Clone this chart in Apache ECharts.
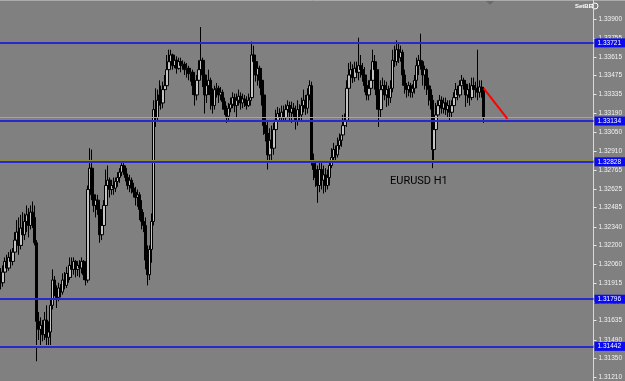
<!DOCTYPE html>
<html><head><meta charset="utf-8">
<script src="https://cdn.jsdelivr.net/npm/echarts@6/dist/echarts.min.js"></script>
<style>html,body{margin:0;padding:0;background:#808080;}#c{width:625px;height:381px;}</style>
</head><body><div id="c"></div>
<script>
const opens = [
1.3198,1.3192,1.3200,1.3208,1.3203,1.3211,1.3208,1.3215,1.3224,1.3230,
1.3220,1.3233,1.3228,1.3238,1.3243,1.3235,1.3245,1.3241,1.3222,1.3163,
1.3157,1.3160,1.3153,1.3164,1.3151,1.3155,1.3175,1.3194,1.3187,1.3181,
1.3188,1.3185,1.3194,1.3190,1.3199,1.3196,1.3205,1.3202,1.3208,1.3202,
1.3205,1.3203,1.3208,1.3198,1.3194,1.3262,1.3278,1.3258,1.3250,1.3254,
1.3247,1.3228,1.3235,1.3250,1.3265,1.3269,1.3262,1.3265,1.3263,1.3268,
1.3271,1.3275,1.3280,1.3278,1.3271,1.3265,1.3269,1.3263,1.3260,1.3256,
1.3258,1.3247,1.3238,1.3235,1.3209,1.3198,1.3217,1.3238,1.3322,1.3316,
1.3329,1.3333,1.3327,1.3337,1.3340,1.3352,1.3358,1.3363,1.3355,1.3359,
1.3353,1.3358,1.3355,1.3356,1.3352,1.3353,1.3349,1.3350,1.3340,1.3333,
1.3344,1.3352,1.3359,1.3348,1.3333,1.3340,1.3344,1.3333,1.3325,1.3337,
1.3338,1.3333,1.3335,1.3328,1.3322,1.3317,1.3323,1.3326,1.3331,1.3325,
1.3329,1.3332,1.3327,1.3330,1.3328,1.3325,1.3329,1.3331,1.3363,1.3358,
1.3348,1.3353,1.3344,1.3333,1.3310,1.3304,1.3288,1.3299,1.3293,1.3307,
1.3314,1.3319,1.3316,1.3320,1.3316,1.3322,1.3325,1.3320,1.3323,1.3319,
1.3314,1.3322,1.3318,1.3325,1.3329,1.3323,1.3333,1.3340,1.3284,1.3277,
1.3271,1.3265,1.3277,1.3269,1.3273,1.3265,1.3271,1.3280,1.3286,1.3292,
1.3288,1.3295,1.3299,1.3303,1.3310,1.3314,1.3338,1.3348,1.3352,1.3346,
1.3353,1.3350,1.3355,1.3352,1.3348,1.3340,1.3333,1.3338,1.3344,1.3358,
1.3352,1.3333,1.3322,1.3337,1.3340,1.3333,1.3337,1.3331,1.3338,1.3359,
1.3358,1.3367,1.3361,1.3365,1.3348,1.3340,1.3337,1.3340,1.3335,1.3338,
1.3344,1.3355,1.3359,1.3358,1.3348,1.3352,1.3340,1.3337,1.3329,1.3292,
1.3307,1.3318,1.3325,1.3329,1.3323,1.3327,1.3322,1.3325,1.3320,1.3325,
1.3331,1.3337,1.3333,1.3340,1.3344,1.3341,1.3333,1.3337,1.3331,1.3340,
1.3337,1.3338,1.3335,1.3339,1.3337
];
const highs = [
1.3203,1.3205,1.3211,1.3213,1.3215,1.3217,1.3218,1.3230,1.3239,1.3241,
1.3243,1.3245,1.3244,1.3250,1.3248,1.3250,1.3253,1.3250,1.3224,1.3170,
1.3166,1.3164,1.3170,1.3175,1.3163,1.3179,1.3202,1.3197,1.3190,1.3192,
1.3191,1.3199,1.3200,1.3204,1.3203,1.3211,1.3211,1.3211,1.3209,1.3207,
1.3209,1.3211,1.3209,1.3200,1.3265,1.3293,1.3292,1.3263,1.3258,1.3258,
1.3250,1.3243,1.3254,1.3277,1.3280,1.3271,1.3269,1.3271,1.3271,1.3275,
1.3278,1.3283,1.3283,1.3280,1.3274,1.3273,1.3271,1.3267,1.3264,1.3262,
1.3260,1.3254,1.3245,1.3241,1.3220,1.3220,1.3244,1.3329,1.3338,1.3337,
1.3344,1.3340,1.3343,1.3348,1.3363,1.3367,1.3367,1.3364,1.3363,1.3362,
1.3361,1.3361,1.3359,1.3358,1.3357,1.3355,1.3353,1.3352,1.3344,1.3348,
1.3359,1.3384,1.3361,1.3352,1.3344,1.3352,1.3346,1.3338,1.3340,1.3342,
1.3340,1.3339,1.3337,1.3331,1.3325,1.3327,1.3331,1.3335,1.3334,1.3334,
1.3337,1.3335,1.3334,1.3333,1.3332,1.3334,1.3335,1.3373,1.3370,1.3361,
1.3358,1.3355,1.3346,1.3337,1.3318,1.3314,1.3308,1.3310,1.3312,1.3322,
1.3324,1.3323,1.3325,1.3325,1.3326,1.3329,1.3328,1.3328,1.3327,1.3325,
1.3329,1.3326,1.3331,1.3337,1.3333,1.3338,1.3344,1.3343,1.3289,1.3284,
1.3280,1.3284,1.3283,1.3280,1.3278,1.3277,1.3284,1.3293,1.3297,1.3295,
1.3301,1.3304,1.3307,1.3318,1.3319,1.3344,1.3357,1.3358,1.3356,1.3358,
1.3358,1.3376,1.3363,1.3357,1.3354,1.3346,1.3344,1.3352,1.3367,1.3363,
1.3354,1.3340,1.3344,1.3346,1.3344,1.3343,1.3340,1.3344,1.3367,1.3370,
1.3374,1.3372,1.3370,1.3367,1.3352,1.3342,1.3343,1.3342,1.3341,1.3348,
1.3361,1.3363,1.3379,1.3359,1.3355,1.3353,1.3346,1.3340,1.3333,1.3318,
1.3327,1.3329,1.3333,1.3332,1.3331,1.3331,1.3329,1.3329,1.3329,1.3335,
1.3342,1.3340,1.3344,1.3348,1.3346,1.3344,1.3341,1.3342,1.3346,1.3346,
1.3343,1.3367,1.3344,1.3344,1.3339
];
const lows = [
1.3187,1.3189,1.3198,1.3200,1.3201,1.3204,1.3205,1.3212,1.3218,1.3213,
1.3217,1.3220,1.3224,1.3230,1.3226,1.3232,1.3233,1.3220,1.3133,1.3149,
1.3145,1.3148,1.3149,1.3143,1.3143,1.3145,1.3172,1.3182,1.3173,1.3178,
1.3181,1.3183,1.3187,1.3188,1.3192,1.3194,1.3196,1.3198,1.3196,1.3197,
1.3196,1.3199,1.3194,1.3190,1.3192,1.3258,1.3254,1.3245,1.3241,1.3243,
1.3222,1.3224,1.3232,1.3247,1.3258,1.3256,1.3258,1.3258,1.3260,1.3264,
1.3267,1.3272,1.3273,1.3268,1.3262,1.3260,1.3259,1.3256,1.3250,1.3249,
1.3239,1.3232,1.3230,1.3202,1.3190,1.3194,1.3207,1.3235,1.3309,1.3313,
1.3325,1.3322,1.3323,1.3333,1.3339,1.3348,1.3355,1.3352,1.3353,1.3349,
1.3352,1.3350,1.3352,1.3348,1.3346,1.3344,1.3343,1.3333,1.3325,1.3329,
1.3340,1.3346,1.3339,1.3319,1.3327,1.3333,1.3322,1.3319,1.3322,1.3331,
1.3327,1.3329,1.3322,1.3318,1.3312,1.3314,1.3320,1.3323,1.3320,1.3316,
1.3325,1.3322,1.3323,1.3324,1.3322,1.3324,1.3325,1.3329,1.3348,1.3343,
1.3340,1.3338,1.3325,1.3303,1.3298,1.3277,1.3283,1.3282,1.3288,1.3303,
1.3312,1.3313,1.3313,1.3313,1.3314,1.3318,1.3314,1.3312,1.3316,1.3307,
1.3310,1.3313,1.3314,1.3320,1.3318,1.3319,1.3329,1.3280,1.3269,1.3264,
1.3252,1.3260,1.3262,1.3259,1.3260,1.3262,1.3265,1.3278,1.3283,1.3284,
1.3286,1.3292,1.3294,1.3299,1.3307,1.3309,1.3337,1.3344,1.3342,1.3343,
1.3346,1.3344,1.3346,1.3343,1.3335,1.3329,1.3329,1.3333,1.3340,1.3337,
1.3322,1.3309,1.3316,1.3331,1.3329,1.3324,1.3325,1.3327,1.3335,1.3354,
1.3355,1.3357,1.3358,1.3340,1.3334,1.3331,1.3332,1.3331,1.3331,1.3334,
1.3338,1.3348,1.3352,1.3340,1.3337,1.3333,1.3325,1.3322,1.3278,1.3284,
1.3299,1.3314,1.3322,1.3319,1.3319,1.3318,1.3316,1.3314,1.3316,1.3322,
1.3327,1.3329,1.3331,1.3338,1.3337,1.3324,1.3327,1.3325,1.3329,1.3331,
1.3331,1.3329,1.3331,1.3331,1.3312
];
const closes = [
1.3192,1.3200,1.3208,1.3203,1.3211,1.3208,1.3215,1.3224,1.3230,1.3220,
1.3233,1.3228,1.3238,1.3243,1.3235,1.3245,1.3241,1.3222,1.3163,1.3157,
1.3160,1.3153,1.3164,1.3151,1.3155,1.3175,1.3194,1.3187,1.3181,1.3188,
1.3185,1.3194,1.3190,1.3199,1.3196,1.3205,1.3202,1.3208,1.3202,1.3205,
1.3203,1.3208,1.3198,1.3194,1.3262,1.3278,1.3258,1.3250,1.3254,1.3247,
1.3228,1.3235,1.3250,1.3265,1.3269,1.3262,1.3265,1.3263,1.3268,1.3271,
1.3275,1.3280,1.3278,1.3271,1.3265,1.3269,1.3263,1.3260,1.3256,1.3258,
1.3247,1.3238,1.3235,1.3209,1.3198,1.3217,1.3238,1.3322,1.3316,1.3329,
1.3333,1.3327,1.3337,1.3340,1.3352,1.3358,1.3363,1.3355,1.3359,1.3353,
1.3358,1.3355,1.3356,1.3352,1.3353,1.3349,1.3350,1.3340,1.3333,1.3344,
1.3352,1.3359,1.3348,1.3333,1.3340,1.3344,1.3333,1.3325,1.3337,1.3338,
1.3333,1.3335,1.3328,1.3322,1.3317,1.3323,1.3326,1.3331,1.3325,1.3329,
1.3332,1.3327,1.3330,1.3328,1.3325,1.3329,1.3331,1.3363,1.3358,1.3348,
1.3353,1.3344,1.3333,1.3310,1.3304,1.3288,1.3299,1.3293,1.3307,1.3314,
1.3319,1.3316,1.3320,1.3316,1.3322,1.3325,1.3320,1.3323,1.3319,1.3314,
1.3322,1.3318,1.3325,1.3329,1.3323,1.3333,1.3340,1.3284,1.3277,1.3271,
1.3265,1.3277,1.3269,1.3273,1.3265,1.3271,1.3280,1.3286,1.3292,1.3288,
1.3295,1.3299,1.3303,1.3310,1.3314,1.3338,1.3348,1.3352,1.3346,1.3353,
1.3350,1.3355,1.3352,1.3348,1.3340,1.3333,1.3338,1.3344,1.3358,1.3352,
1.3333,1.3322,1.3337,1.3340,1.3333,1.3337,1.3331,1.3338,1.3359,1.3358,
1.3367,1.3361,1.3365,1.3348,1.3340,1.3337,1.3340,1.3335,1.3338,1.3344,
1.3355,1.3359,1.3358,1.3348,1.3352,1.3340,1.3337,1.3329,1.3292,1.3307,
1.3318,1.3325,1.3329,1.3323,1.3327,1.3322,1.3325,1.3320,1.3325,1.3331,
1.3337,1.3333,1.3340,1.3344,1.3341,1.3333,1.3337,1.3331,1.3340,1.3337,
1.3338,1.3335,1.3339,1.3337,1.3316
];
const tickLabels = ['1.33900','1.33755','1.33615','1.33475','1.33335','1.33190','1.33050','1.32910','1.32765','1.32625',
  '1.32485','1.32340','1.32200','1.32060','1.31915','1.31775','1.31635','1.31490','1.31350','1.31210'];
const levels = [1.33721, 1.33134, 1.32828, 1.31796, 1.31442];
const oliveLevels = [1.32836, 1.31450];
const trendLine = [[244, 1.3338], [256, 1.3315]];
const symbolText = 'EURUSD H1';
const cornerText = 'SetBE';

const slotCount = 300;
const categories = Array.from({length: slotCount}, (_, i) => String(i));
const candles = opens.map((o, i) => [o, closes[i], lows[i], highs[i]]);
const tickValues = tickLabels.map(Number);
const bid = closes[closes.length - 1];

const chart = echarts.init(document.getElementById('c'), null, {renderer: 'canvas'});
chart.setOption({
  animation: false,
  backgroundColor: '#808080',
  grid: {left: 0, right: 25, top: 0, bottom: 0},
  xAxis: {type: 'category', data: categories, show: false, boundaryGap: true},
  yAxis: {
    type: 'value', position: 'right', min: 1.31182, max: 1.34043,
    splitLine: {show: false},
    axisLine: {show: true, lineStyle: {color: '#d8d8d8', width: 1}},
    axisTick: {show: true, length: 3, lineStyle: {color: '#e8e8e8'}, customValues: tickValues},
    axisLabel: {customValues: tickValues, formatter: v => v.toFixed(5), color: '#f2f2f2',
      fontSize: 6.5, margin: 5, fontFamily: 'Liberation Sans'}
  },
  series: [
    {
      type: 'candlestick', data: candles, barWidth: 3,
      itemStyle: {color: '#c4c4c4', color0: '#000000', borderColor: '#000000', borderColor0: '#000000', borderWidth: 1},
      markLine: {
        silent: true, symbol: ['none', 'none'], animation: false, precision: 5,
        data: [
          {yAxis: bid, lineStyle: {color: '#a4a4a4', width: 1, type: 'solid'}, label: {show: false}}
        ].concat(oliveLevels.map(v => ({
          yAxis: v, lineStyle: {color: '#8a8a40', width: 1, type: 'solid'}, label: {show: false}
        }))).concat(levels.map(v => ({
          yAxis: v,
          lineStyle: {color: '#2828cc', width: 2, type: 'solid'},
          label: {show: true, position: 'end', distance: 1, formatter: () => v.toFixed(5),
            backgroundColor: '#0a0af0', color: '#ffffff', fontSize: 6.5, fontFamily: 'Liberation Sans',
            padding: [1, 4, 1, 3]}
        })))
      }
    },
    {
      type: 'line', data: trendLine, symbol: 'none', silent: true, z: 5,
      lineStyle: {color: '#ff0000', width: 2}
    }
  ],
  graphic: [
    {type: 'line', shape: {x1: 0, y1: 0.5, x2: 625, y2: 0.5}, style: {stroke: '#ababab', lineWidth: 1}},
    {type: 'polygon', shape: {points: [[486, 1], [494, 1], [490, 5]]}, style: {fill: '#6a6a6a'}},
    {type: 'text', left: 390, top: 176, style: {text: symbolText, fill: '#000000', fontSize: 11, fontFamily: 'Roboto'}},
    {type: 'text', left: 575, top: 3, style: {text: cornerText, fill: '#ffffff', fontSize: 6, fontWeight: 'bold', fontFamily: 'Liberation Sans'}},
    {type: 'circle', shape: {cx: 595, cy: 6, r: 3}, style: {fill: 'none', stroke: '#ffffff', lineWidth: 1}}
  ]
});
</script>
</body></html>
